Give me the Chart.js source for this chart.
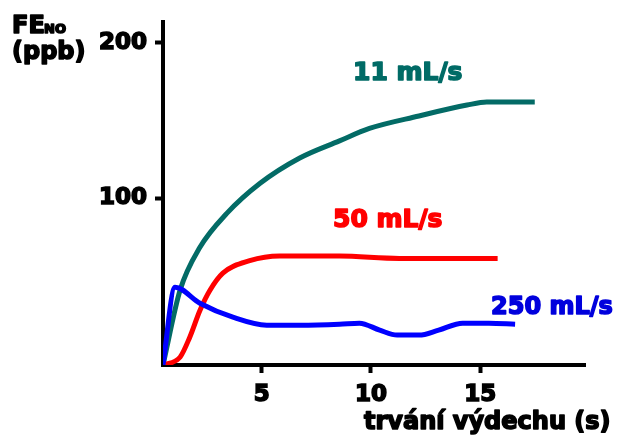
<!DOCTYPE html>
<html>
<head>
<meta charset="utf-8">
<script src="https://cdn.jsdelivr.net/npm/chart.js@4.4.0/dist/chart.umd.min.js"></script>
<style>
  html, body { margin: 0; padding: 0; background: #fff; }
  #wrap { width: 622px; height: 443px; position: relative; }
</style>
</head>
<body>
<div id="wrap"><canvas id="chart"></canvas></div>
<script>
// Ticks
const xTicks = [5, 10, 15];
const yTicks = [100, 200];

// 11 mL/s
const slowX = [0.48, 1.26, 2.17, 3.4, 4.91, 6.74, 8.56, 9.93, 12.2, 14.4, 15.3, 17.5];
const slowY = [-7, 41, 68.6, 90.4, 109.6, 126, 137, 145, 153, 160, 162, 162];

// 50 mL/s
const midX = [0.48, 1.26, 1.71, 2.17, 2.63, 3.22, 4.45, 5.82, 8.56, 11.3, 15.8];
const midY = [-7, -2, 11, 28, 41, 52, 60, 63, 63, 61.5, 61.5];

// 250 mL/s
const fastX = [0.48, 1.03, 2.17, 3.68, 5.23, 6.74, 8.56, 9.47, 10.4, 11.2, 12.2, 13.1, 14.2, 15.4, 16.6];
const fastY = [-7, 43, 32.7, 23.7, 18.6, 18.6, 19.2, 19.9, 15.4, 12.2, 12.2, 15.4, 19.9, 19.9, 19.2];

const toPoints = (xs, ys) => xs.map((x, i) => ({ x: x, y: ys[i] }));

const tickFont = { family: 'DejaVu Sans', size: 23, weight: 'bold' };

// heavy text: fill plus a thin stroke in the same colour
function heavyText(ctx, text, x, y, color) {
    ctx.fillStyle = color;
    ctx.strokeStyle = color;
    ctx.fillText(text, x, y);
    ctx.strokeText(text, x, y);
}

// texts drawn on top: axis titles and curve names
const textPlugin = {
    id: 'texts',
    afterDraw(chart) {
        const ctx = chart.ctx;
        ctx.save();
        ctx.lineWidth = 1.6;
        ctx.lineJoin = 'round';
        ctx.textAlign = 'left';
        ctx.textBaseline = 'alphabetic';
        ctx.font = 'bold 24px "DejaVu Sans"';
        heavyText(ctx, 'FE', 12, 33, '#000');
        ctx.font = 'bold 13px "DejaVu Sans"';
        heavyText(ctx, 'NO', 44, 33, '#000');
        ctx.font = 'bold 24px "DejaVu Sans"';
        heavyText(ctx, '(ppb)', 12, 59, '#000');

        ctx.textBaseline = 'middle';
        ctx.font = 'bold 24px "DejaVu Sans"';
        heavyText(ctx, 'trvání výdechu (s)', 364, 423, '#000');
        ctx.font = 'bold 25px "DejaVu Sans"';
        heavyText(ctx, '11 mL/s', 353, 73, '#006b66');
        heavyText(ctx, '50 mL/s', 333, 220, '#ff0000');
        ctx.font = 'bold 24px "DejaVu Sans"';
        heavyText(ctx, '250 mL/s', 491, 308, '#0000dd');
        ctx.restore();
    }
};

const ctx = document.getElementById('chart').getContext('2d');
new Chart(ctx, {
    type: 'line',
    data: {
        datasets: [{
            label: '250 mL/s',
            data: toPoints(fastX, fastY),
            borderColor: '#0000ff',
            borderWidth: 5,
            pointRadius: 0,
            cubicInterpolationMode: 'monotone'
        }, {
            label: '50 mL/s',
            data: toPoints(midX, midY),
            borderColor: '#ff0000',
            borderWidth: 5,
            pointRadius: 0,
            cubicInterpolationMode: 'monotone'
        }, {
            label: '11 mL/s',
            data: toPoints(slowX, slowY),
            borderColor: '#036b66',
            borderWidth: 5,
            pointRadius: 0,
            cubicInterpolationMode: 'monotone'
        }]
    },
    options: {
        responsive: true,
        maintainAspectRatio: false,
        animation: false,
        layout: { padding: { left: 0, top: 21, right: 37, bottom: 0 } },
        scales: {
            x: {
                type: 'linear',
                min: 0.48,
                max: 19.8,
                afterBuildTicks: (scale) => { scale.ticks = xTicks.map(v => ({ value: v })); },
                afterFit: (scale) => { scale.height = 78; },
                border: { display: true, color: '#000', width: 4 },
                grid: { drawOnChartArea: false, drawTicks: true, tickLength: 8, tickWidth: 4, tickColor: '#000' },
                ticks: { color: '#000', font: tickFont, padding: 8, maxRotation: 0, textStrokeColor: '#000', textStrokeWidth: 1.6 }
            },
            y: {
                type: 'linear',
                min: -7,
                max: 213.5,
                afterBuildTicks: (scale) => { scale.ticks = yTicks.map(v => ({ value: v })); },
                afterFit: (scale) => { scale.width = 163; },
                border: { display: true, color: '#000', width: 4 },
                grid: { drawOnChartArea: false, drawTicks: true, tickLength: 8, tickWidth: 4, tickColor: '#000' },
                ticks: { color: '#000', font: tickFont, padding: 8, textStrokeColor: '#000', textStrokeWidth: 1.6 }
            }
        },
        plugins: {
            legend: { display: false },
            tooltip: { enabled: false }
        }
    },
    plugins: [textPlugin]
});
</script>
</body>
</html>
